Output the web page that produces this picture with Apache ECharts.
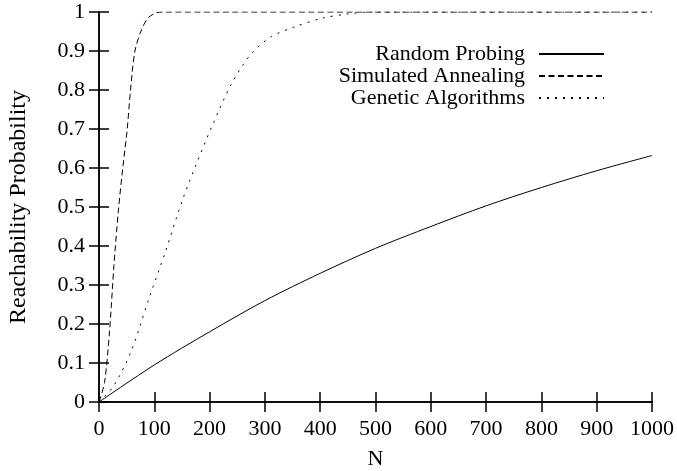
<!DOCTYPE html>
<html><head><meta charset="utf-8">
<script src="https://cdn.jsdelivr.net/npm/echarts@6/dist/echarts.min.js"></script>
<style>html,body{margin:0;padding:0;background:#fff}#c{width:677px;height:471px}</style>
</head><body><div id="c"></div>
<script>
const seriesNames = ['Random Probing', 'Simulated Annealing', 'Genetic Algorithms'];
const rpN = [0, 100, 200, 300, 400, 500, 600, 700, 800, 900, 1000];
const rpP = [0, 0.095, 0.18, 0.26, 0.33, 0.394, 0.45, 0.503, 0.55, 0.593, 0.632];
const saN = [0, 10, 19, 27, 35, 43, 51, 57, 65, 77, 89, 104, 120, 1000];
const saP = [0, 0.05, 0.18, 0.35, 0.49, 0.6, 0.7, 0.8, 0.9, 0.955, 0.985, 0.998, 1, 1];
const gaN = [0, 26, 59, 89, 119, 151, 174, 204, 240, 276, 312, 354, 403, 450, 490, 1000];
const gaP = [0, 0.04, 0.133, 0.26, 0.381, 0.518, 0.603, 0.706, 0.817, 0.894, 0.937, 0.962, 0.984, 0.995, 1, 1];
const xTicks = [0, 100, 200, 300, 400, 500, 600, 700, 800, 900, 1000];
const yTicks = [0, 0.1, 0.2, 0.3, 0.4, 0.5, 0.6, 0.7, 0.8, 0.9, 1];

const zip = (a, b) => a.map((v, i) => [v, b[i]]);
const font = 'Liberation Serif';
const fs = 22;
const axLine = {show: true, lineStyle: {color: '#000', width: 1.5}};
const tick = {show: true, inside: true, length: 10, lineStyle: {color: '#000', width: 1.5}};

const chart = echarts.init(document.getElementById('c'), null, {renderer: 'canvas'});
chart.setOption({
  animation: false,
  backgroundColor: '#fff',
  textStyle: {fontFamily: font, color: '#000'},
  grid: {left: 99, right: 25, top: 12, bottom: 69, containLabel: false, outerBoundsMode: 'none'},
  legend: {
    orient: 'vertical', right: 72, top: 43, padding: 0,
    align: 'right', itemWidth: 65, itemHeight: 21, itemGap: 0,
    itemStyle: {opacity: 0},
    textStyle: {fontFamily: font, fontSize: fs, color: '#000', padding: [0, 9, 0, 0]},
    data: seriesNames
  },
  xAxis: [
    {type: 'value', position: 'bottom', min: 0, max: 1000, interval: 100,
     name: 'N', nameLocation: 'middle', nameGap: 46,
     nameTextStyle: {fontFamily: font, fontSize: fs, color: '#000'},
     axisLine: axLine, axisTick: tick, splitLine: {show: false},
     axisLabel: {fontFamily: font, fontSize: fs, color: '#000', margin: 16,
       formatter: v => String(v)}},
    {type: 'value', position: 'top', min: 0, max: 1000, interval: 100,
     axisLine: axLine, axisTick: tick, splitLine: {show: false}, axisLabel: {show: false}}
  ],
  yAxis: [
    {type: 'value', position: 'left', min: 0, max: 1, interval: 0.1,
     name: 'Reachability Probability', nameLocation: 'middle', nameGap: 68,
     nameTextStyle: {fontFamily: font, fontSize: 24, color: '#000'},
     axisLine: axLine, axisTick: tick, splitLine: {show: false},
     axisLabel: {fontFamily: font, fontSize: fs, color: '#000', margin: 14,
       formatter: v => (Math.round(v * 10) / 10).toString()}},
    {type: 'value', position: 'right', min: 0, max: 1, interval: 0.1,
     axisLine: axLine, axisTick: tick, splitLine: {show: false}, axisLabel: {show: false}}
  ],
  series: [
    {name: seriesNames[0], type: 'line', data: zip(rpN, rpP), smooth: 0.3,
     symbol: 'none', lineStyle: {color: '#000', width: 1, type: 'solid'}, itemStyle: {color: '#000'}},
    {name: seriesNames[1], type: 'line', data: zip(saN, saP), smooth: 0.3,
     symbol: 'none', lineStyle: {color: '#000', width: 1, type: [6, 3.5]}, itemStyle: {color: '#000'}},
    {name: seriesNames[2], type: 'line', data: zip(gaN, gaP), smooth: 0.3,
     symbol: 'none', lineStyle: {color: '#000', width: 1, type: [2, 6]}, itemStyle: {color: '#000'}}
  ]
});
</script></body></html>
